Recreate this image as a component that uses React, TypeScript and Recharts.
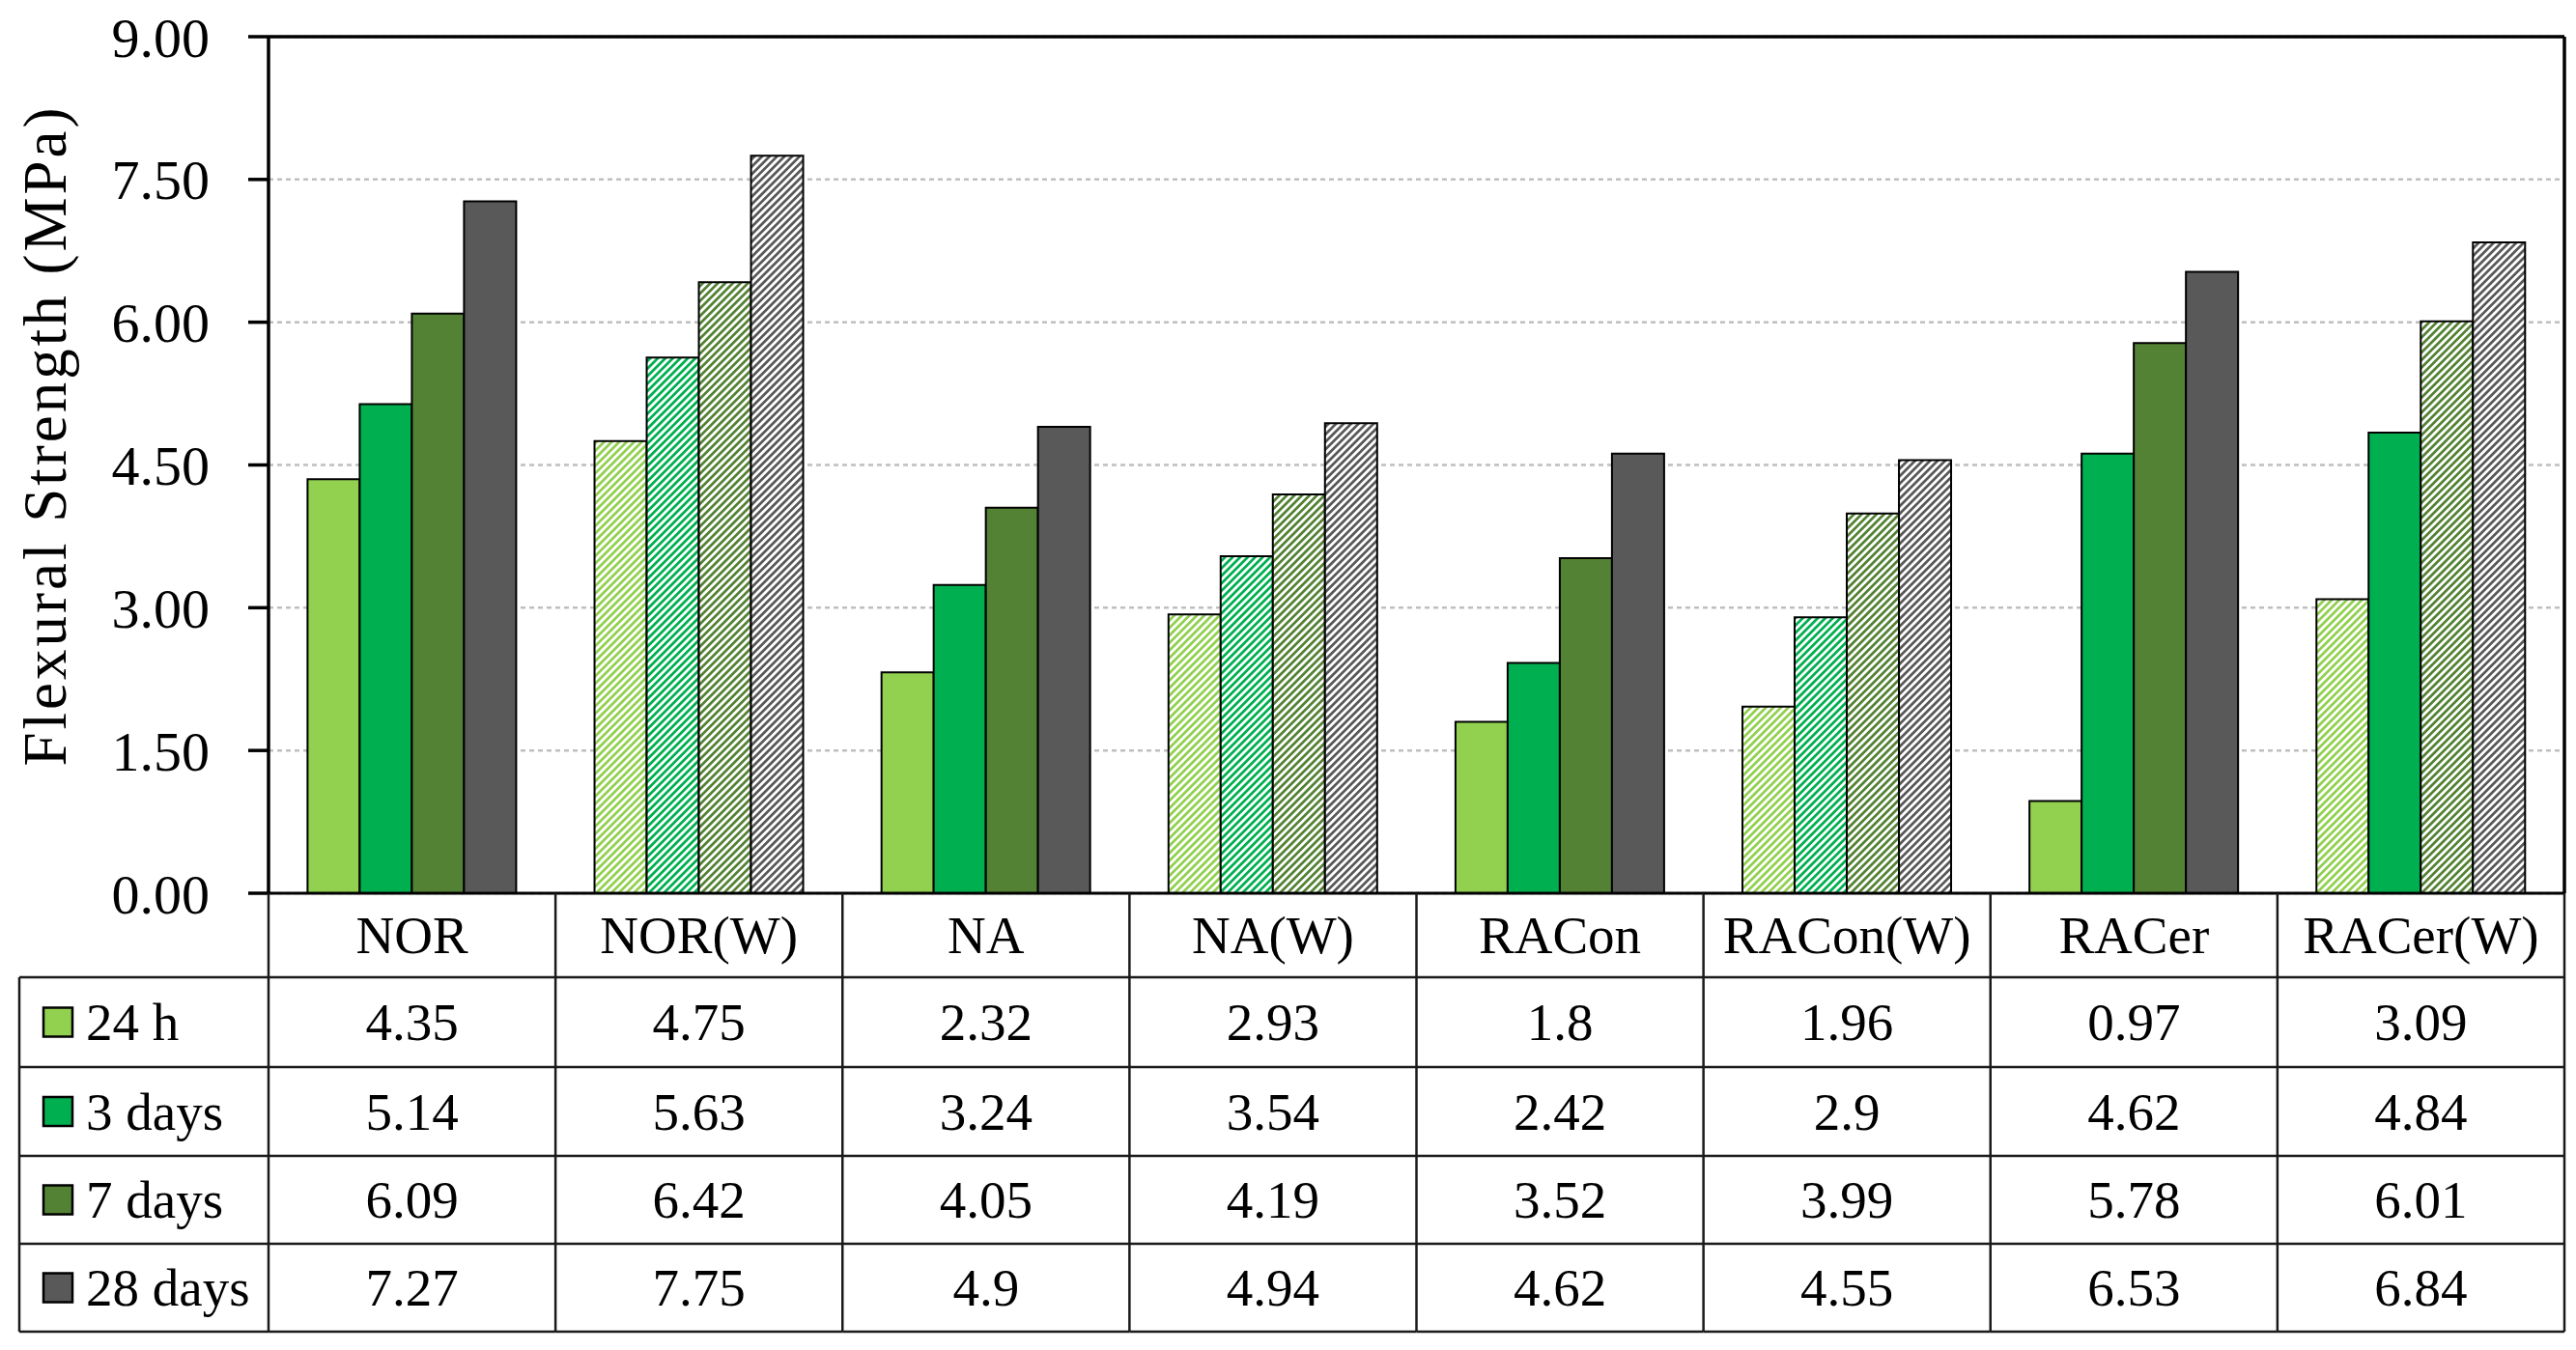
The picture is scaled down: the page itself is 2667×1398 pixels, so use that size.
import React from 'react'
import { BarChart, Bar, Cell, XAxis, YAxis, CartesianGrid, ReferenceLine } from 'recharts'

const categories = ['NOR', 'NOR(W)', 'NA', 'NA(W)', 'RACon', 'RACon(W)', 'RACer', 'RACer(W)']
const h24 = [4.35, 4.75, 2.32, 2.93, 1.8, 1.96, 0.97, 3.09]
const d3 = [5.14, 5.63, 3.24, 3.54, 2.42, 2.9, 4.62, 4.84]
const d7 = [6.09, 6.42, 4.05, 4.19, 3.52, 3.99, 5.78, 6.01]
const d28 = [7.27, 7.75, 4.9, 4.94, 4.62, 4.55, 6.53, 6.84]
const seriesNames = ['24 h', '3 days', '7 days', '28 days']
const yTicks = [0, 1.5, 3, 4.5, 6, 7.5, 9]

// which groups are drawn hatched (the "(W)" mixes), and the one solid exception
const hatchedGroups = ['NOR(W)', 'NA(W)', 'RACon(W)', 'RACer(W)']
const solidExceptions = [{ key: 'd3', category: 'RACer(W)' }]

const SERIES = [
  { key: 'h24', values: h24, color: '#92D050' },
  { key: 'd3', values: d3, color: '#00B050' },
  { key: 'd7', values: d7, color: '#548235' },
  { key: 'd28', values: d28, color: '#595959' },
]

const data = categories.map((name, i) => ({
  name,
  h24: h24[i],
  d3: d3[i],
  d7: d7[i],
  d28: d28[i],
}))

const FONT = '"Liberation Serif", "Times New Roman", serif'
const W = 2667
const H = 1398
const PLOT_LEFT = 278
const PLOT_RIGHT = 2655
const PLOT_TOP = 38
const PLOT_BOTTOM = 925
const TABLE_LEFT = 20
const ROW_Y = [925, 1012, 1105, 1197, 1288, 1379]
const COL_W = (PLOT_RIGHT - PLOT_LEFT) / categories.length
const LINE = '#1a1a1a'

function isHatched(key: string, category: string) {
  if (!hatchedGroups.includes(category)) return false
  return !solidExceptions.some((e) => e.key === key && e.category === category)
}

function TableColumn(props: any) {
  const { x, payload } = props
  const ci = categories.indexOf(payload.value)
  const left = x - COL_W / 2
  const right = x + COL_W / 2
  const last = ci === categories.length - 1
  return (
    <g>
      <line x1={left} x2={left} y1={ROW_Y[0]} y2={ROW_Y[5]} stroke={LINE} strokeWidth={2.5} />
      {last && <line x1={right} x2={right} y1={ROW_Y[0]} y2={ROW_Y[5]} stroke={LINE} strokeWidth={2.5} />}
      {ROW_Y.slice(1).map((ry) => (
        <line key={ry} x1={left} x2={right} y1={ry} y2={ry} stroke={LINE} strokeWidth={2.5} />
      ))}
      <text
        x={x}
        y={(ROW_Y[0] + ROW_Y[1]) / 2}
        textAnchor="middle"
        dominantBaseline="central"
        fontFamily={FONT}
        fontSize={55}
        fill="#000"
      >
        {payload.value}
      </text>
      {SERIES.map((s, si) => (
        <text
          key={s.key}
          x={x}
          y={(ROW_Y[si + 1] + ROW_Y[si + 2]) / 2}
          textAnchor="middle"
          dominantBaseline="central"
          fontFamily={FONT}
          fontSize={55}
          fill="#000"
        >
          {String(s.values[ci])}
        </text>
      ))}
      {ci === 0 && (
        <g>
          <line x1={TABLE_LEFT} x2={TABLE_LEFT} y1={ROW_Y[1]} y2={ROW_Y[5]} stroke={LINE} strokeWidth={2.5} />
          {ROW_Y.slice(1).map((ry) => (
            <line key={ry} x1={TABLE_LEFT} x2={left} y1={ry} y2={ry} stroke={LINE} strokeWidth={2.5} />
          ))}
          {SERIES.map((s, si) => {
            const cy = (ROW_Y[si + 1] + ROW_Y[si + 2]) / 2
            return (
              <g key={s.key}>
                <rect x={45} y={cy - 15} width={30} height={30} fill={s.color} stroke="#000" strokeWidth={2.5} />
                <text x={89} y={cy} dominantBaseline="central" fontFamily={FONT} fontSize={55} fill="#000">
                  {seriesNames[si]}
                </text>
              </g>
            )
          })}
        </g>
      )}
    </g>
  )
}

function YLabel() {
  const cx = 47
  const cy = 451
  return (
    <text
      x={cx}
      y={cy}
      transform={`rotate(-90 ${cx} ${cy})`}
      textAnchor="middle"
      dominantBaseline="central"
      fontFamily={FONT}
      fontSize={63}
      letterSpacing={3}
      fill="#000"
    >
      Flexural Strength (MPa)
    </text>
  )
}

export default function App() {
  return (
    <div style={{ position: 'absolute', left: 0, top: 0, width: W, height: H, background: '#fff' }}>
      <svg width={0} height={0} style={{ position: 'absolute' }}>
        <defs>
          {SERIES.map((s) => (
            <pattern
              key={s.key}
              id={`hatch-${s.key}`}
              patternUnits="userSpaceOnUse"
              width={5.5}
              height={5.5}
              patternTransform="rotate(45)"
            >
              <rect x={0} y={0} width={5.5} height={5.5} fill="#fff" />
              <rect x={0} y={0} width={2.75} height={5.5} fill={s.color} />
            </pattern>
          ))}
        </defs>
      </svg>
      <BarChart
        width={W}
        height={H}
        data={data}
        margin={{ top: PLOT_TOP, right: W - PLOT_RIGHT - 1, bottom: H - ROW_Y[5], left: 0 }}
        barGap={0}
        barCategoryGap="13.6%"
      >
        <CartesianGrid vertical={false} stroke="#BFBFBF" strokeDasharray="5 4" strokeWidth={2.5} />
        <XAxis
          dataKey="name"
          height={ROW_Y[5] - PLOT_BOTTOM}
          axisLine={{ stroke: '#000', strokeWidth: 3 }}
          tickLine={false}
          tick={<TableColumn />}
          interval={0}
        />
        <YAxis
          width={PLOT_LEFT}
          domain={[0, 9]}
          ticks={yTicks}
          interval={0}
          tickFormatter={(v: number) => v.toFixed(2)}
          tick={{ fontFamily: FONT, fontSize: 58, fill: '#000' }}
          tickSize={21}
          tickMargin={40}
          tickLine={{ stroke: '#000', strokeWidth: 3.5 }}
          axisLine={{ stroke: '#000', strokeWidth: 3.5 }}
          label={<YLabel />}
        />
        <YAxis
          yAxisId="r"
          orientation="right"
          width={1}
          domain={[0, 9]}
          tick={false}
          tickLine={false}
          axisLine={{ stroke: '#000', strokeWidth: 3.5 }}
        />
        <ReferenceLine y={9} stroke="#000" strokeWidth={3.5} />
        {SERIES.map((s) => (
          <Bar key={s.key} dataKey={s.key} name={s.key} stroke="#000" strokeWidth={2} isAnimationActive={false}>
            {categories.map((c) => (
              <Cell key={c} fill={isHatched(s.key, c) ? `url(#hatch-${s.key})` : s.color} />
            ))}
          </Bar>
        ))}
      </BarChart>
    </div>
  )
}
